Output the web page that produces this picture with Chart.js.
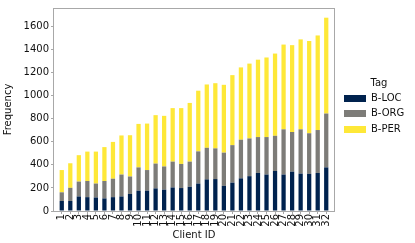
<!DOCTYPE html>
<html><head><meta charset="utf-8">
<script src="https://cdn.jsdelivr.net/npm/chart.js@4/dist/chart.umd.min.js"></script>
<style>html,body{margin:0;padding:0;background:#fff}#wrap{width:415px;height:243px}</style>
</head><body><div id="wrap"><canvas id="c" width="415" height="243"></canvas></div>
<script>
const categories = ['1','2','3','4','5','6','7','8','9','10','11','12','13','14','15','16','17','18','19','20','21','22','23','24','25','26','27','28','29','30','31','32'];
const locValues = [87,87,126,120,117,109,120,126,148,176,176,196,185,204,199,210,238,274,277,218,246,283,302,330,316,347,316,341,324,322,330,378];
const orgValues = [75,114,129,140,121,151,160,190,151,202,179,215,201,224,209,218,279,274,266,288,325,335,327,311,325,305,392,344,384,352,372,467];
const perValues = [193,213,229,255,277,294,319,339,358,377,403,420,439,464,484,509,526,549,565,588,607,627,649,671,690,713,735,753,780,800,820,831];
const yTicks = [0,200,400,600,800,1000,1200,1400,1600];
const seriesNames = ['B-LOC','B-ORG','B-PER'];
const seriesColors = ['#00224e','#7d7c78','#fee838'];
const legendTitle = 'Tag';
const xTitle = 'Client ID';
const yTitle = 'Frequency';

const FONT = {family:'DejaVu Sans', size:10};
const TEXT = '#111';
const FRAME = '#a8a8a8';

const toPts = arr => arr.map((v,i)=>({x:i,y:v}));

const framePlugin = {
  id:'frame',
  afterDraw(chart){
    const {ctx, chartArea:a} = chart;
    ctx.save();
    ctx.strokeStyle = FRAME; ctx.lineWidth = 1;
    ctx.strokeRect(Math.round(a.left)-0.5, Math.round(a.top)+0.5, Math.round(a.right-a.left)+1, Math.round(a.bottom-a.top));
    ctx.font = '10px "DejaVu Sans"';
    ctx.fillStyle = TEXT; ctx.textBaseline = 'middle';
    ctx.textAlign = 'center';
    ctx.fillText(legendTitle, 379, 83);
    ctx.textAlign = 'left';
    chart.data.datasets.forEach((ds,i)=>{
      const y = 98 + i*15.5;
      ctx.fillStyle = ds.backgroundColor;
      ctx.fillRect(344, Math.round(y-3.5), 22, 7);
      ctx.fillStyle = TEXT;
      ctx.fillText(ds.label, 371, y);
    });
    ctx.restore();
  }
};

new Chart(document.getElementById('c'), {
  type:'bar',
  data:{
    datasets:[
      {label:seriesNames[0], data:toPts(locValues), backgroundColor:seriesColors[0]},
      {label:seriesNames[1], data:toPts(orgValues), backgroundColor:seriesColors[1]},
      {label:seriesNames[2], data:toPts(perValues), backgroundColor:seriesColors[2]}
    ]
  },
  options:{
    responsive:false, animation:false, devicePixelRatio:1,
    datasets:{bar:{barPercentage:0.5, categoryPercentage:1.0, borderWidth:0}},
    layout:{padding:{left:0,right:81,top:2,bottom:0}},
    plugins:{legend:{display:false}, tooltip:{enabled:false}},
    scales:{
      x:{
        type:'linear', stacked:true, offset:false, min:-0.91, max:31.91,
        afterBuildTicks:s=>{ s.ticks = categories.map((c,i)=>({value:i})); },
        afterFit:s=>{ s.height = 32; },
        ticks:{callback:v=>categories[v], autoSkip:false, minRotation:90, maxRotation:90, padding:0, font:FONT, color:TEXT},
        grid:{display:true, offset:false, drawOnChartArea:false, drawTicks:true, tickLength:3, color:FRAME},
        border:{display:false},
        title:{display:true, text:xTitle, font:FONT, color:TEXT, padding:{top:0,bottom:2}}
      },
      y:{
        stacked:true, min:0, max:1760,
        afterBuildTicks:s=>{ s.ticks = yTicks.map(v=>({value:v})); },
        afterFit:s=>{ s.width = 54; },
        ticks:{font:FONT, color:TEXT, padding:2, callback:v=>String(v)},
        grid:{display:true, drawOnChartArea:false, drawTicks:true, tickLength:3, color:FRAME},
        border:{display:false},
        title:{display:true, text:yTitle, font:FONT, color:TEXT, padding:{top:2,bottom:0}}
      }
    }
  },
  plugins:[framePlugin]
});
</script>
</body></html>
